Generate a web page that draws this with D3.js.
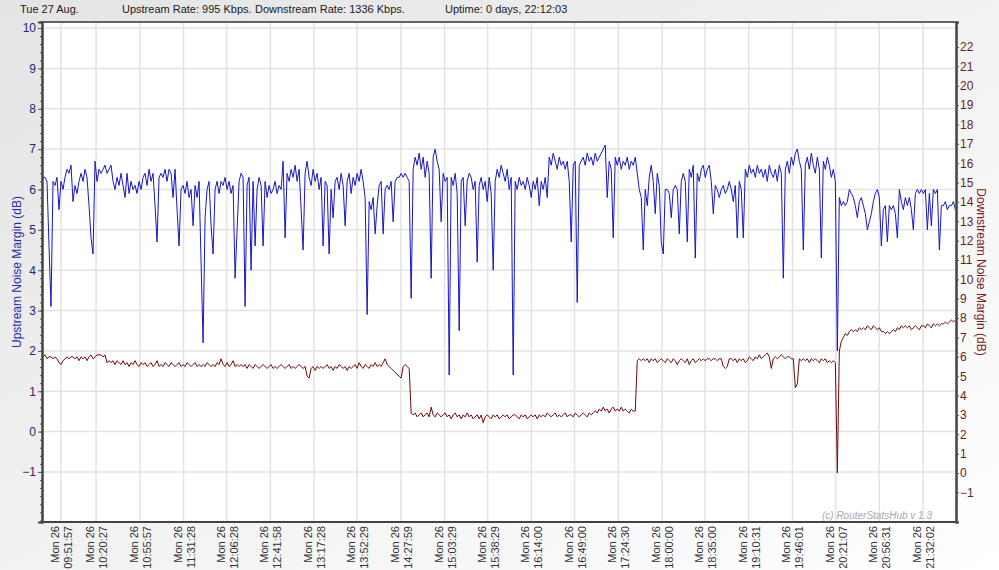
<!DOCTYPE html>
<html>
<head>
<meta charset="utf-8">
<script src="https://cdn.jsdelivr.net/npm/d3@7"></script>
<style>
body { margin: 0; background: #fff; }
svg { display: block; font-family: "Liberation Sans", Arial, sans-serif; }
</style>
</head>
<body>
<div id="vis"></div>
<script>

// header strip
var headerTexts = ['Tue 27 Aug.', 'Upstream Rate: 995 Kbps.', 'Downstream Rate: 1336 Kbps.', 'Uptime: 0 days, 22:12:03'];

// x axis tick labels (all on Mon 26)
var tickDay = 'Mon 26';
var tickTimes = ['09:51:57', '10:20:27', '10:55:57', '11:31:28', '12:06:28', '12:41:58', '13:17:28',
    '13:52:29', '14:27:59', '15:03:29', '15:38:29', '16:14:00', '16:49:00', '17:24:30',
    '18:00:00', '18:35:00', '19:10:31', '19:46:01', '20:21:07', '20:56:31', '21:32:02'];

var viewStart = '09:36:31';
var viewEnd = '21:58:50';

// samples are logged on a fixed clock
var sampleStart = '09:37:20';
var sampleStep = 97.5; // seconds

var leftTicks = [-1, 0, 1, 2, 3, 4, 5, 6, 7, 8, 9, 10];
var rightTicks = [-1, 0, 1, 2, 3, 4, 5, 6, 7, 8, 9, 10, 11, 12, 13, 14, 15, 16, 17, 18, 19, 20, 21, 22];

// upstream noise margin (dB), left axis
var upstream = [
    6.3,6.3,6.2,4.6,3.1,6.2,6.1,6.3,5.5,6.2,
    6.0,6.3,6.5,6.4,6.6,5.7,6.1,5.9,6.2,6.4,
    6.2,6.5,6.3,5.6,4.8,4.4,6.7,6.2,6.5,6.4,
    6.5,6.6,6.4,6.5,6.6,6.2,6.0,6.3,6.1,6.4,
    6.1,5.8,6.4,5.9,6.2,6.0,6.1,5.9,6.2,6.0,
    6.3,6.4,6.1,6.5,6.2,6.4,5.6,4.7,6.3,6.4,
    6.3,6.5,6.2,6.5,6.4,5.8,6.5,5.5,4.6,6.0,
    6.1,5.9,6.2,5.8,6.0,5.1,6.1,5.8,6.2,4.2,
    2.2,5.3,6.0,6.2,5.1,4.4,6.0,6.2,5.9,6.2,
    6.1,6.3,6.0,6.2,5.9,6.1,3.8,5.0,6.2,6.4,
    6.3,3.1,6.1,6.3,4.0,6.2,4.6,6.0,6.3,6.1,
    4.6,6.2,5.8,6.1,5.9,6.0,6.2,5.9,6.1,6.0,
    6.7,4.8,6.4,6.2,6.5,6.3,6.6,6.2,6.5,5.5,
    4.5,6.4,6.7,6.3,6.1,6.5,6.2,6.4,6.0,6.3,
    4.6,6.2,6.1,4.4,6.0,5.3,6.2,6.3,6.0,6.4,
    6.1,5.1,6.2,6.4,5.9,6.3,6.1,6.4,6.2,6.5,
    6.2,5.8,2.9,5.7,5.5,5.8,4.9,5.6,6.1,6.2,
    4.9,6.0,6.1,6.0,6.2,5.2,6.2,6.3,6.3,6.4,
    6.3,6.4,6.3,6.2,3.3,6.5,6.8,6.6,6.9,6.5,
    6.8,6.3,6.7,6.4,3.8,6.8,7.0,6.7,6.5,5.2,
    6.4,6.2,6.3,1.4,6.3,6.1,6.4,5.9,2.5,6.2,
    6.3,5.1,6.2,6.4,6.3,6.0,6.2,4.2,6.1,6.3,
    6.0,6.2,5.7,6.3,5.9,4.0,6.2,6.5,6.3,6.6,
    6.4,6.2,6.5,6.0,6.3,1.4,6.2,6.0,6.3,6.1,
    6.2,6.0,6.3,6.1,5.8,6.2,6.0,6.3,5.6,6.2,
    6.0,6.3,5.8,6.8,6.6,6.9,6.7,6.5,6.8,6.6,
    6.7,6.5,6.7,6.2,4.7,6.6,6.7,3.2,6.6,6.7,
    6.8,6.6,6.9,6.7,6.8,6.6,6.9,6.7,6.8,6.9,
    7.0,7.1,5.8,6.7,6.5,4.8,6.8,6.6,6.8,6.5,
    6.7,6.6,6.8,6.5,6.7,6.6,6.8,6.4,6.0,5.8,
    4.5,6.0,5.6,6.3,6.6,6.2,5.4,6.4,6.1,4.7,
    4.4,6.0,6.0,5.9,5.3,6.0,6.1,6.0,4.9,6.2,
    6.4,6.2,4.7,6.5,6.3,6.6,4.3,6.4,6.2,6.5,
    6.6,6.3,6.5,6.6,6.2,5.4,6.1,6.0,5.8,6.0,
    6.1,5.9,6.0,6.2,6.0,5.7,6.1,4.8,6.2,6.0,
    4.8,6.5,6.3,6.6,6.4,6.5,6.3,6.6,6.4,6.5,
    6.3,6.5,6.2,6.6,6.4,6.3,6.5,6.2,6.6,6.4,
    3.8,6.5,6.7,6.4,6.8,6.6,6.9,7.0,6.7,6.5,
    4.5,6.6,6.8,6.5,6.9,6.6,6.4,6.8,6.5,4.3,
    6.7,6.5,6.8,6.6,6.3,6.5,6.2,2.0,5.8,5.6,
    5.7,5.6,5.7,6.0,5.9,5.8,5.6,5.3,5.7,5.8,
    5.6,5.4,5.0,5.2,5.4,5.7,5.9,6.0,5.8,4.6,
    5.5,5.6,4.7,5.6,5.5,5.6,5.4,4.8,6.0,5.7,
    5.5,5.8,5.6,5.8,5.5,5.0,5.9,6.0,5.9,6.0,
    5.9,6.0,5.0,5.9,5.1,6.0,5.9,6.0,4.5,5.6,
    5.6,5.7,5.5,5.6,5.6,5.7,5.5
];

// downstream noise margin (dB), right axis
var downstream = [
    6.0,6.1,5.9,6.0,6.0,5.9,6.0,5.9,5.7,5.6,
    5.8,5.9,6.0,5.9,6.0,6.0,5.9,6.0,5.8,6.0,
    5.9,6.0,5.8,6.0,6.1,5.9,6.0,6.1,6.1,6.1,
    6.0,6.1,5.7,5.8,5.7,5.8,5.6,5.8,5.7,5.6,
    5.8,5.6,5.7,5.5,5.7,5.6,5.8,5.6,5.5,5.7,
    5.6,5.7,5.5,5.6,5.7,5.5,5.6,5.8,5.5,5.6,
    5.5,5.7,5.6,5.5,5.7,5.6,5.5,5.6,5.7,5.5,
    5.6,5.5,5.7,5.6,5.5,5.6,5.7,5.5,5.6,5.5,
    5.6,5.5,5.7,5.6,5.5,5.6,5.5,5.7,5.6,5.9,
    5.6,5.5,5.7,5.5,5.6,5.8,5.5,5.6,5.5,5.6,
    5.5,5.6,5.4,5.6,5.5,5.4,5.6,5.5,5.4,5.5,
    5.6,5.5,5.4,5.5,5.6,5.4,5.5,5.4,5.5,5.6,
    5.5,5.4,5.5,5.6,5.4,5.5,5.4,5.5,5.6,5.5,
    5.4,5.5,5.0,4.9,5.4,5.5,5.3,5.5,5.4,5.5,
    5.4,5.5,5.6,5.4,5.5,5.3,5.5,5.4,5.6,5.5,
    5.4,5.5,5.3,5.5,5.4,5.5,5.6,5.4,5.7,5.5,
    5.4,5.6,5.5,5.4,5.6,5.5,5.7,5.5,5.6,5.5,
    5.7,5.9,5.6,5.5,5.4,5.3,5.2,5.1,5.0,4.9,
    5.5,5.6,5.5,5.4,3.1,3.0,3.1,2.9,3.0,3.1,
    2.9,3.0,3.1,2.9,3.4,3.0,2.9,3.1,3.0,2.9,
    3.0,3.1,2.9,3.0,2.8,3.0,3.1,2.9,3.0,2.8,
    3.0,2.9,3.1,2.9,3.0,2.8,2.9,3.0,2.8,3.0,
    2.6,2.9,3.0,2.9,2.8,3.0,2.9,3.0,2.8,2.9,
    3.0,2.9,3.0,2.8,2.9,3.0,3.0,2.9,2.8,3.0,
    2.9,3.0,2.8,2.9,3.0,2.9,3.0,2.8,3.0,2.9,
    3.0,2.9,3.1,3.0,2.9,3.0,3.1,2.9,3.0,2.9,
    3.0,3.1,2.9,3.0,3.0,2.9,3.1,3.0,2.9,3.0,
    3.1,3.0,2.9,3.1,3.0,3.1,3.2,3.1,3.3,3.2,
    3.4,3.2,3.3,3.1,3.3,3.4,3.2,3.3,3.2,3.4,
    3.2,3.3,3.2,3.1,3.3,3.2,3.2,5.8,5.9,5.8,
    5.9,5.8,5.9,5.7,5.9,5.8,5.9,5.7,5.8,5.9,
    5.8,5.7,5.9,5.8,5.7,5.9,5.8,5.6,5.8,5.9,
    5.8,5.7,5.9,5.6,5.8,5.9,5.7,5.8,5.9,5.8,
    5.9,5.8,5.9,5.9,5.8,5.9,5.9,5.8,5.9,5.9,
    5.5,5.4,5.5,5.9,5.9,5.8,5.9,5.7,5.9,5.8,
    5.9,5.7,5.8,6.0,5.9,5.8,6.0,5.9,6.1,5.9,
    6.0,6.1,6.2,6.0,5.4,5.9,6.0,5.9,6.0,6.1,
    6.0,5.9,6.0,6.0,5.9,5.9,4.4,4.6,5.9,5.8,
    5.9,5.8,5.9,5.7,5.9,5.8,5.9,5.8,5.7,5.9,
    5.8,5.9,5.7,5.8,5.7,5.8,5.7,0.0,6.3,6.8,
    7.0,7.2,7.1,7.3,7.4,7.3,7.4,7.3,7.5,7.4,
    7.5,7.4,7.6,7.5,7.4,7.6,7.5,7.4,7.5,7.3,
    7.3,7.2,7.3,7.2,7.3,7.4,7.3,7.5,7.4,7.6,
    7.5,7.6,7.5,7.6,7.4,7.5,7.6,7.5,7.4,7.6,
    7.6,7.5,7.7,7.6,7.5,7.7,7.6,7.7,7.6,7.7,
    7.7,7.8,7.7,7.8,7.9,7.8,7.9
];

var width = 999;
var height = 570;
var plot = { left: 42, right: 956, top: 22, bottom: 522 };

var parseTime = d3.timeParse('%Y-%m-%d %H:%M:%S');
function onDay(t) { return parseTime('2013-08-26 ' + t); }

var t0 = onDay(sampleStart);
function sampleTime(i) { return new Date(t0.getTime() + i * sampleStep * 1000); }

var x = d3.scaleTime()
    .domain([onDay(viewStart), onDay(viewEnd)])
    .range([plot.left, plot.right]);

var yLeft = d3.scaleLinear().domain([-2.24, 10.15]).range([plot.bottom, plot.top]);
var yRight = d3.scaleLinear().domain([-2.53, 23.29]).range([plot.bottom, plot.top]);

var svg = d3.select('#vis').append('svg')
    .attr('width', width)
    .attr('height', height);

var defs = svg.append('defs');
var grad = defs.append('linearGradient').attr('id', 'bg')
    .attr('x1', 0).attr('y1', 0).attr('x2', 1).attr('y2', 1);
grad.append('stop').attr('offset', '0%').attr('stop-color', '#e4e4e4');
grad.append('stop').attr('offset', '100%').attr('stop-color', '#ffffff');

svg.append('rect').attr('width', width).attr('height', height).attr('fill', 'url(#bg)');

// header
var headerX = [20, 122, 255, 445];
svg.selectAll('.hdr')
    .data(headerTexts)
    .enter().append('text')
    .attr('class', 'hdr')
    .attr('x', function (d, i) { return headerX[i]; })
    .attr('y', 13)
    .attr('font-size', 11)
    .attr('fill', '#1a1a1a')
    .text(function (d) { return d; });

svg.append('rect')
    .attr('x', plot.left).attr('y', plot.top)
    .attr('width', plot.right - plot.left).attr('height', plot.bottom - plot.top)
    .attr('fill', '#fff');

// grid
svg.append('g').selectAll('line')
    .data(leftTicks)
    .enter().append('line')
    .attr('x1', plot.left).attr('x2', plot.right)
    .attr('y1', function (d) { return yLeft(d); })
    .attr('y2', function (d) { return yLeft(d); })
    .attr('stroke', '#e3e3e3').attr('stroke-width', 1.5);

svg.append('g').selectAll('line')
    .data(tickTimes)
    .enter().append('line')
    .attr('y1', plot.top).attr('y2', plot.bottom)
    .attr('x1', function (d) { return x(onDay(d)); })
    .attr('x2', function (d) { return x(onDay(d)); })
    .attr('stroke', '#e3e3e3').attr('stroke-width', 1.5);

// series
var upLine = d3.line()
    .x(function (d, i) { return x(sampleTime(i)); })
    .y(function (d) { return yLeft(d); });

var downLine = d3.line()
    .x(function (d, i) { return x(sampleTime(i)); })
    .y(function (d) { return yRight(d); });

svg.append('path').datum(downstream)
    .attr('d', downLine)
    .attr('fill', 'none')
    .attr('stroke', '#6e0a0a')
    .attr('stroke-width', 1);

svg.append('path').datum(upstream)
    .attr('d', upLine)
    .attr('fill', 'none')
    .attr('stroke', '#1616c8')
    .attr('stroke-width', 1);

// frame
svg.append('line')
    .attr('x1', plot.left).attr('x2', plot.right)
    .attr('y1', plot.top).attr('y2', plot.top)
    .attr('stroke', '#333').attr('stroke-width', 1.5);
svg.append('line')
    .attr('x1', plot.left).attr('x2', plot.right)
    .attr('y1', plot.bottom).attr('y2', plot.bottom)
    .attr('stroke', '#444').attr('stroke-width', 2);

// left axis
var leftAxis = svg.append('g')
    .attr('transform', 'translate(' + plot.left + ',0)')
    .call(d3.axisLeft(yLeft).tickValues(leftTicks).tickSize(4).tickPadding(2).tickFormat(d3.format('d')));
leftAxis.append('g')
    .call(d3.axisLeft(yLeft).tickValues(d3.range(-2.2, 10.1, 0.2)).tickSize(2).tickFormat(''));
leftAxis.selectAll('.domain').attr('stroke', '#444').attr('stroke-width', 2);
leftAxis.selectAll('.tick line').attr('stroke', '#555');
leftAxis.selectAll('text')
    .attr('font-size', 12)
    .attr('font-family', '"Liberation Sans", Arial, sans-serif')
    .attr('fill', '#23237a');

// right axis
var rightAxis = svg.append('g')
    .attr('transform', 'translate(' + plot.right + ',0)')
    .call(d3.axisRight(yRight).tickValues(rightTicks).tickSize(3).tickPadding(1).tickFormat(d3.format('d')));
rightAxis.append('g')
    .call(d3.axisRight(yRight).tickValues(d3.range(-2.5, 23.2, 0.25)).tickSize(2).tickFormat(''));
rightAxis.selectAll('.domain').attr('stroke', '#444').attr('stroke-width', 2);
rightAxis.selectAll('.tick line').attr('stroke', '#555');
rightAxis.selectAll('text')
    .attr('font-size', 12)
    .attr('font-family', '"Liberation Sans", Arial, sans-serif')
    .attr('fill', '#6a1e1e');

// x labels, two rotated lines each
var xLabels = svg.append('g').selectAll('g')
    .data(tickTimes)
    .enter().append('g')
    .attr('transform', function (d) { return 'translate(' + x(onDay(d)) + ',526)'; });

xLabels.append('text')
    .attr('transform', 'translate(-2,0) rotate(-90)')
    .attr('text-anchor', 'end')
    .attr('font-size', 11)
    .attr('fill', '#333')
    .text(tickDay);

xLabels.append('text')
    .attr('transform', 'translate(11,0) rotate(-90)')
    .attr('text-anchor', 'end')
    .attr('font-size', 11)
    .attr('fill', '#333')
    .text(function (d) { return d; });

// axis titles
svg.append('text')
    .attr('transform', 'translate(21,' + ((plot.top + plot.bottom) / 2) + ') rotate(-90)')
    .attr('text-anchor', 'middle')
    .attr('font-size', 12)
    .attr('fill', '#2a2aa8')
    .text('Upstream Noise Margin (dB)');

svg.append('text')
    .attr('transform', 'translate(977,' + ((plot.top + plot.bottom) / 2) + ') rotate(90)')
    .attr('text-anchor', 'middle')
    .attr('font-size', 12)
    .attr('fill', '#7a1a1a')
    .text('Downstream Noise Margin (dB)');

// watermark
svg.append('text')
    .attr('x', 932).attr('y', 519)
    .attr('text-anchor', 'end')
    .attr('font-size', 10)
    .attr('font-style', 'italic')
    .attr('fill', '#a8a8a8')
    .text('(c) RouterStatsHub  v 1.3');

</script>
</body>
</html>
